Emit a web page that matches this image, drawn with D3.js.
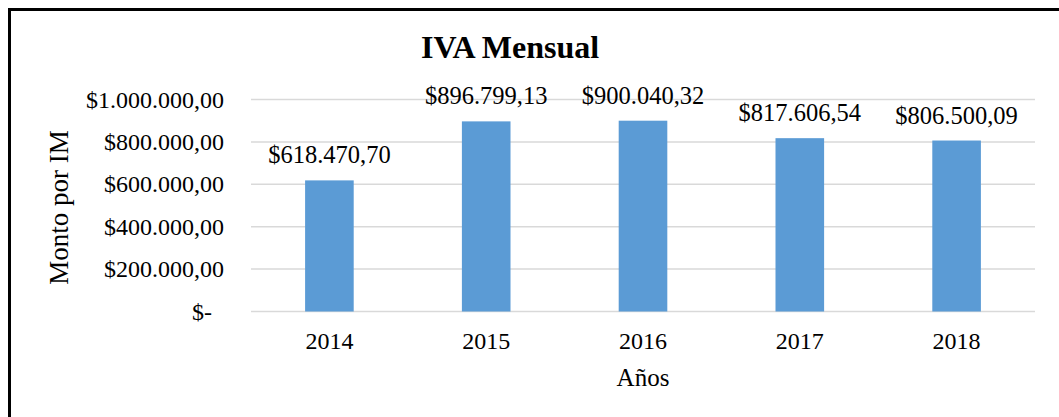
<!DOCTYPE html>
<html>
<head>
<meta charset="utf-8">
<script src="https://cdn.jsdelivr.net/npm/d3@7"></script>
<style>
  html, body { margin: 0; padding: 0; background: #fff; }
  svg { display: block; }
  text { font-family: "Liberation Serif", "Times New Roman", serif; fill: #000; }
</style>
</head>
<body>
<svg id="chart" width="1059" height="417"></svg>
<script>
const categories = ["2014", "2015", "2016", "2017", "2018"];
const values = [618470.70, 896799.13, 900040.32, 817606.54, 806500.09];
const valueLabels = ["$618.470,70", "$896.799,13", "$900.040,32", "$817.606,54", "$806.500,09"];
const tickValues = [0, 200000, 400000, 600000, 800000, 1000000];
const tickLabels = ["$-", "$200.000,00", "$400.000,00", "$600.000,00", "$800.000,00", "$1.000.000,00"];
const title = "IVA Mensual";
const xTitle = "Años";
const yTitle = "Monto por IM";

const svg = d3.select("#chart");
const W = 1059, H = 417;
const plot = { left: 251, right: 1035, top: 99.5, bottom: 311.5 };
const serif = '"Liberation Serif", "Times New Roman", serif';

// outer frame
svg.append("rect")
  .attr("x", 9.5).attr("y", 9.5)
  .attr("width", W + 20).attr("height", H + 20)
  .attr("fill", "none").attr("stroke", "#000").attr("stroke-width", 3);

const x = d3.scaleBand().domain(categories).range([plot.left, plot.right]).paddingInner(0.69).paddingOuter(0.345);
const y = d3.scaleLinear().domain([0, 1000000]).range([plot.bottom, plot.top]);

// gridlines
svg.append("g")
  .selectAll("line").data(tickValues).join("line")
  .attr("x1", plot.left).attr("x2", plot.right)
  .attr("y1", d => y(d)).attr("y2", d => y(d))
  .attr("stroke", "#d9d9d9").attr("stroke-width", 1.5);

// y axis labels
const yAxis = svg.append("g")
  .attr("transform", `translate(${plot.left},0)`)
  .call(d3.axisLeft(y).tickValues(tickValues).tickSize(0).tickPadding(27)
    .tickFormat((d, i) => tickLabels[i]));
yAxis.attr("font-family", null).attr("font-size", null);
yAxis.select(".domain").remove();
yAxis.selectAll("text")
  .style("font-family", serif)
  .style("font-size", "24px").attr("fill", "#000")
  .attr("dx", d => d === 0 ? -12 : 0);

// bars
svg.append("g").selectAll("rect").data(values).join("rect")
  .attr("x", (d, i) => x(categories[i]))
  .attr("width", x.bandwidth())
  .attr("y", d => y(d))
  .attr("height", d => y(0) - y(d))
  .attr("fill", "#5B9BD5");

// value labels
svg.append("g").selectAll("text").data(values).join("text")
  .attr("x", (d, i) => x(categories[i]) + x.bandwidth() / 2)
  .attr("y", d => y(d) - 17)
  .attr("text-anchor", "middle")
  .style("font-family", serif)
  .style("font-size", "24.5px")
  .text((d, i) => valueLabels[i]);

// x axis labels
const xAxis = svg.append("g")
  .attr("transform", `translate(0,${plot.bottom})`)
  .call(d3.axisBottom(x).tickSize(0).tickPadding(20));
xAxis.attr("font-family", null).attr("font-size", null);
xAxis.select(".domain").remove();
xAxis.selectAll("text")
  .style("font-family", serif)
  .style("font-size", "24px").attr("fill", "#000");

// title
svg.append("text")
  .attr("x", 510).attr("y", 58)
  .attr("text-anchor", "middle")
  .style("font-family", serif)
  .style("font-size", "32px").style("font-weight", "bold")
  .text(title);

// axis titles
svg.append("text")
  .attr("x", (plot.left + plot.right) / 2).attr("y", 386)
  .attr("text-anchor", "middle")
  .style("font-family", serif)
  .style("font-size", "25px")
  .text(xTitle);

svg.append("text")
  .attr("transform", `translate(68,${(plot.top + plot.bottom) / 2 + 2}) rotate(-90)`)
  .attr("text-anchor", "middle")
  .style("font-family", serif)
  .style("font-size", "27px")
  .text(yTitle);
</script>
</body>
</html>
